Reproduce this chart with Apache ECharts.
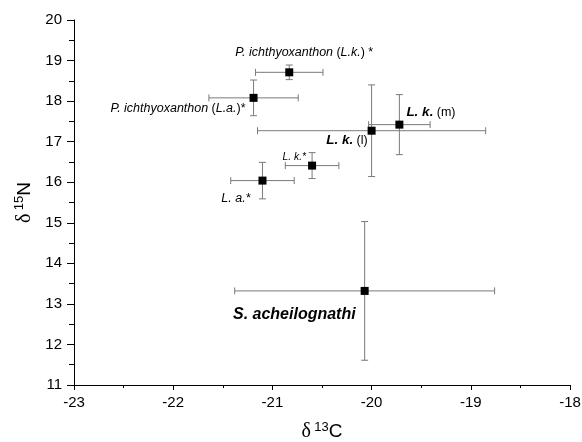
<!DOCTYPE html>
<html><head><meta charset="utf-8">
<script src="https://cdn.jsdelivr.net/npm/echarts@6/dist/echarts.min.js"></script>
<style>html,body{margin:0;padding:0;background:#fff}#c{width:582px;height:442px}</style>
</head><body><div id="c"></div>
<script>
// ---- data ----
const groups = ['P. ichthyoxanthon (L.k.) *', 'P. ichthyoxanthon (L.a.)*', 'L. k. (l)', 'L. k. (m)', 'L. k.*', 'L. a.*', 'S. acheilognathi'];
const d13C = [-20.83, -21.19, -20.00, -19.72, -20.60, -21.10, -20.07];
const d15N = [18.71, 18.08, 17.27, 17.42, 16.41, 16.04, 13.32];
const errC = [0.34, 0.45, 1.15, 0.31, 0.27, 0.32, 1.31];
const errN = [0.18, 0.44, 1.13, 0.74, 0.32, 0.45, 1.71];
const xTicks = [-23, -22, -21, -20, -19, -18];
const yTicks = [11, 12, 13, 14, 15, 16, 17, 18, 19, 20];
const labelTexts = [
  '{i|P. ichthyoxanthon} {n|(}{i|L.k.}{n|) *}',
  '{i|P. ichthyoxanthon} {n|(}{i|L.a.}{n|)*}',
  '{b|L. k.} {n|(l)}',
  '{b|L. k.} {n|(m)}',
  '{s|L. k.*}',
  '{i|L. a.*}',
  '{bb|S. acheilognathi}'
];

// ---- layout of labels (align, offset) ----
const labelLayout = [
  {align: 'center', offset: [15, -20]},
  {align: 'right', offset: [-8, 11]},
  {align: 'right', offset: [-4, 10]},
  {align: 'left', offset: [7, -12]},
  {align: 'right', offset: [-6, -8]},
  {align: 'right', offset: [-12, 18]},
  {align: 'right', offset: [-9, 24]}
];

const FONT = '"Liberation Sans", Arial, sans-serif';
const rich = {
  i: {fontFamily: FONT, fontStyle: 'italic', fontSize: 12.5, color: '#000'},
  n: {fontFamily: FONT, fontSize: 12.5, color: '#000'},
  b: {fontFamily: FONT, fontStyle: 'italic', fontWeight: 'bold', fontSize: 13.5, color: '#000'},
  s: {fontFamily: FONT, fontStyle: 'italic', fontSize: 10.3, color: '#000'},
  bb: {fontFamily: FONT, fontStyle: 'italic', fontWeight: 'bold', fontSize: 16, color: '#000'}
};

const errData = d13C.map((x, i) => [x, d15N[i], errC[i], errN[i]]);
const ptData = d13C.map((x, i) => ({
  name: groups[i],
  value: [x, d15N[i]],
  label: {
    show: true,
    position: 'inside',
    formatter: labelTexts[i],
    align: labelLayout[i].align,
    verticalAlign: 'middle',
    offset: labelLayout[i].offset,
    rich: rich
  }
}));

const nameRich = {
  d: {fontFamily: '"Liberation Serif", serif', fontSize: 20, color: '#000'},
  sup: {fontFamily: FONT, fontSize: 13, color: '#000', padding: [0, 0, 9, 0]},
  n: {fontFamily: FONT, fontSize: 19, color: '#000'}
};

const chart = echarts.init(document.getElementById('c'), null, {renderer: 'canvas'});
chart.setOption({
  animation: false,
  backgroundColor: '#fff',
  grid: {left: 74, right: 12, top: 20, bottom: 57, containLabel: false, outerBoundsMode: 'none'},
  xAxis: {
    type: 'value', min: xTicks[0], max: xTicks[xTicks.length - 1], interval: 1,
    name: '{d|δ} {sup|13}{n|C}', nameLocation: 'middle', nameGap: 36,
    nameTextStyle: {rich: nameRich},
    axisLine: {show: true, lineStyle: {color: '#000', width: 1}},
    axisTick: {show: true, length: 5, lineStyle: {color: '#000'}},
    minorTick: {show: true, splitNumber: 2, length: 3, lineStyle: {color: '#000'}},
    splitLine: {show: false},
    axisLabel: {fontFamily: FONT, fontSize: 15, color: '#000', margin: 10}
  },
  yAxis: {
    type: 'value', min: yTicks[0], max: yTicks[yTicks.length - 1], interval: 1,
    name: '{d|δ} {sup|15}{n|N}', nameLocation: 'middle', nameGap: 31, nameRotate: 90,
    nameTextStyle: {rich: nameRich},
    axisLine: {show: true, lineStyle: {color: '#000', width: 1}},
    axisTick: {show: true, length: 7, lineStyle: {color: '#000'}},
    minorTick: {show: true, splitNumber: 2, length: 5, lineStyle: {color: '#000'}},
    splitLine: {show: false},
    axisLabel: {fontFamily: FONT, fontSize: 15, color: '#000', margin: 12}
  },
  series: [
    {
      type: 'custom',
      data: errData,
      z: 2,
      silent: true,
      renderItem: function (params, api) {
        const x = api.value(0), y = api.value(1), ex = api.value(2), ey = api.value(3);
        const l = api.coord([x - ex, y]), r = api.coord([x + ex, y]);
        const t = api.coord([x, y + ey]), b = api.coord([x, y - ey]);
        const cap = 3.5;
        const st = {stroke: '#7a7a7a', lineWidth: 1};
        const ln = (x1, y1, x2, y2) => ({type: 'line', shape: {x1, y1, x2, y2}, style: st});
        return {type: 'group', children: [
          ln(l[0], l[1], r[0], r[1]),
          ln(l[0], l[1] - cap, l[0], l[1] + cap),
          ln(r[0], r[1] - cap, r[0], r[1] + cap),
          ln(t[0], t[1], b[0], b[1]),
          ln(t[0] - cap, t[1], t[0] + cap, t[1]),
          ln(b[0] - cap, b[1], b[0] + cap, b[1])
        ]};
      }
    },
    {
      type: 'scatter',
      data: ptData,
      z: 5,
      symbol: 'rect',
      symbolSize: 8,
      itemStyle: {color: '#000', opacity: 1}
    }
  ]
});
</script></body></html>
